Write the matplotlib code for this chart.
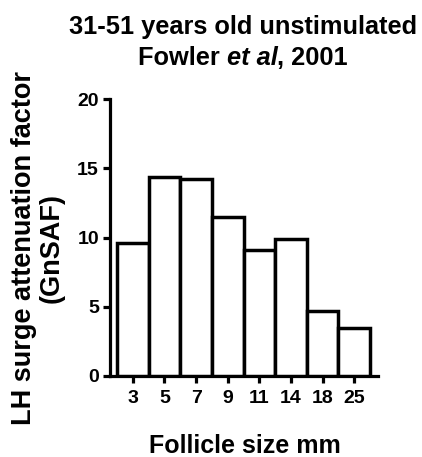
import matplotlib
matplotlib.use("Agg")
import matplotlib.pyplot as plt

categories = ["3", "5", "7", "9", "11", "14", "18", "25"]
values = [9.6, 14.4, 14.2, 11.5, 9.1, 9.9, 4.7, 3.5]
yticks = [0, 5, 10, 15, 20]

plt.rcParams['font.family'] = ['Liberation Sans', 'DejaVu Sans']
plt.rcParams['font.weight'] = 'bold'

W, H = 422, 457
fig = plt.figure(figsize=(W/100, H/100), dpi=100)
ax = fig.add_axes([110/W, 1-376/H, (378-110)/W, (376-99)/H])

x = list(range(len(categories)))
ax.bar(x, values, width=1.0, color='white', edgecolor='black', linewidth=2.5, zorder=3)

ax.set_xlim(-0.72, 7.75)
ax.set_ylim(0, 20)
ax.set_yticks(yticks)
ax.set_xticks(x)
ax.set_xticklabels(categories)
for s in ['top', 'right']:
    ax.spines[s].set_visible(False)
for s in ['left', 'bottom']:
    ax.spines[s].set_linewidth(2.3)
ax.tick_params(axis='both', width=2.3, length=5, labelsize=14, pad=3)
for lab in ax.get_xticklabels() + ax.get_yticklabels():
    lab.set_fontweight('bold')
ax.tick_params(axis='x', pad=5)

# axis labels
fig.text(245/W, 1-446/H, "Follicle size mm", ha='center', va='center', fontsize=18, fontweight='bold')
fig.text(38/W, 1-248/H, "LH surge attenuation factor\n(GnSAF)", ha='center', va='center',
         rotation=90, fontsize=19.5, fontweight='bold', linespacing=1.1, multialignment='center')

# title
fig.text(243/W, 1-27/H, "31-51 years old unstimulated", ha='center', va='center', fontsize=18.3, fontweight='bold')
renderer = fig.canvas.get_renderer()
parts = [("Fowler ", 'normal'), ("et al", 'italic'), (", 2001", 'normal')]
texts = []
widths = []
for s, st in parts:
    t = fig.text(0, 1-58/H, s, ha='left', va='center', fontsize=18.3, fontweight='bold', fontstyle=st)
    texts.append(t)
    widths.append(t.get_window_extent(renderer).width)
total = sum(widths)
xpos = 243 - total/2
for t, w in zip(texts, widths):
    t.set_x(xpos/W)
    xpos += w

fig.savefig("out.png", dpi=100)
